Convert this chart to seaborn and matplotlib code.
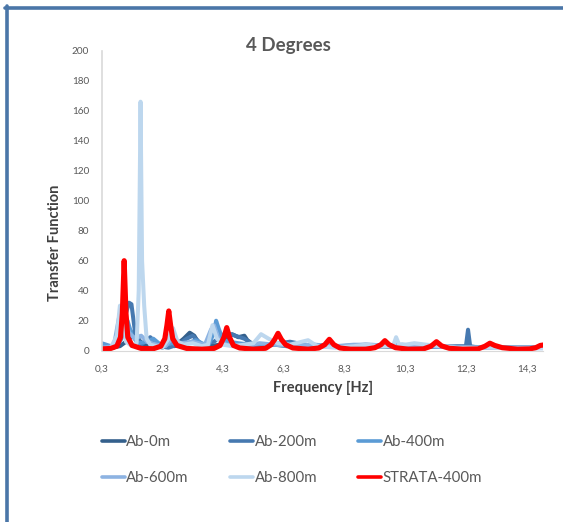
import matplotlib
matplotlib.use("Agg")
import matplotlib.pyplot as plt
from matplotlib.lines import Line2D
import seaborn as sns
import pandas as pd

# ---------------- data ----------------
series_names = ["Ab-0m", "Ab-200m", "Ab-400m", "Ab-600m", "Ab-800m", "STRATA-400m"]

f_ab0 = [0.3, 0.6, 0.9, 1.1, 1.3, 1.42, 1.5, 1.7, 2.0, 2.3, 2.5, 2.7, 3.0, 3.2, 3.35, 3.5, 3.8, 4.2,
         4.6, 4.8, 5.0, 5.1, 5.3, 5.6, 6.0, 6.4, 6.7, 6.9, 7.2, 7.8, 8.5, 9.2, 10.0, 10.8, 11.5, 12.3,
         13.0, 14.0, 14.85]
v_ab0 = [4, 2, 3, 6, 10, 15, 8, 3, 5, 2, 6, 3, 8, 12, 10, 5, 3, 4,
         11, 9, 10, 7, 4, 3, 4, 3, 5, 4, 3, 3, 2.5, 3, 2.5, 3, 2.5, 2,
         2, 2, 2]

f_ab200 = [0.3, 0.7, 0.95, 1.1, 1.2, 1.28, 1.4, 1.6, 1.9, 2.0, 2.2, 2.5, 2.8, 3.1, 3.3, 3.6, 4.0,
           4.4, 4.7, 5.0, 5.3, 5.8, 6.2, 6.5, 7.0, 7.5, 8.2, 9.0, 9.8, 10.5, 11.2, 12.0, 12.3,
           12.37, 12.44, 12.6, 13.5, 14.85]
v_ab200 = [3, 2, 8, 25, 32, 31, 12, 4, 9, 7, 3, 2, 4, 8, 10, 4, 6,
           12, 10, 8, 4, 4, 5, 6, 4, 3, 3, 4, 3, 3, 2.5, 3, 3,
           14, 3, 2.5, 2, 2]

f_ab400 = [0.3, 0.6, 0.9, 1.0, 1.15, 1.3, 1.5, 1.8, 2.0, 2.3, 2.6, 3.0, 3.4, 3.8, 4.0, 4.07, 4.15,
           4.3, 4.5, 4.8, 5.2, 5.8, 6.3, 6.8, 7.3, 8.0, 8.8, 9.5, 10.2, 10.8, 11.5, 12.5, 13.5, 14.85]
v_ab400 = [5, 3, 6, 14, 20, 10, 5, 6, 8, 3, 5, 4, 7, 3, 12, 20, 15,
           7, 6, 5, 4, 4, 5, 3, 4, 3, 3.5, 3, 4, 3, 2.5, 2, 2, 2]

f_ab600 = [0.3, 0.7, 0.85, 0.95, 1.05, 1.2, 1.4, 1.6, 1.8, 2.1, 2.4, 2.6, 2.9, 3.3, 3.7, 3.9, 4.0,
           4.15, 4.4, 5.0, 5.5, 6.0, 6.6, 7.2, 8.0, 8.6, 9.2, 9.8, 10.5, 11.2, 12.0, 13.0, 14.0, 14.85]
v_ab600 = [2, 3, 20, 30, 22, 12, 8, 10, 6, 4, 3, 8, 5, 6, 4, 14, 17,
           8, 4, 3, 5, 4, 3, 4, 3, 4, 4, 3, 3, 3, 2, 2, 2, 2]

f_ab800 = [0.3, 0.6, 0.8, 0.9, 1.0, 1.1, 1.3, 1.45, 1.52, 1.58, 1.63, 1.7, 1.78, 1.9, 2.1, 2.3, 2.5,
           2.65, 2.8, 3.0, 3.3, 3.6, 3.8, 3.95, 4.1, 4.3, 4.6, 5.0, 5.3, 5.55, 5.8, 6.1, 6.5, 6.9,
           7.1, 7.4, 8.0, 8.6, 9.0, 9.5, 9.9, 10.0, 10.1, 10.3, 10.6, 11.0, 11.5, 12.0, 13.0, 14.0,
           14.85]
v_ab800 = [1, 2, 10, 30, 28, 6, 3, 5, 40, 166, 60, 30, 8, 4, 3, 2, 8,
           15, 6, 4, 5, 3, 4, 17, 8, 4, 3, 4, 5, 11, 8, 5, 4, 6,
           7, 3, 2, 3, 4, 3, 3, 9, 4, 4, 5, 4, 3, 2, 2, 1.5,
           1.5]

f_strata = [0.3, 0.6, 0.8, 0.92, 0.98, 1.04, 1.10, 1.16, 1.3, 1.6, 2.0, 2.25, 2.38, 2.45, 2.51, 2.57,
            2.64, 2.78, 3.1, 3.6, 4.0, 4.2, 4.33, 4.42, 4.51, 4.64, 4.85, 5.3, 5.7, 5.88, 6.0, 6.11,
            6.22, 6.36, 6.6, 7.1, 7.45, 7.65, 7.8, 7.95, 8.15, 8.5, 9.0, 9.3, 9.5, 9.63, 9.77, 9.98,
            10.4, 10.9, 11.15, 11.33, 11.5, 11.75, 12.2, 12.7, 12.93, 13.09, 13.25, 13.5, 14.0, 14.4,
            14.6, 14.75, 14.85]
v_strata = [1.2, 1.5, 3, 9, 25, 60, 25, 9, 3.5, 1.5, 1.3, 3, 8, 17, 26.5, 17,
            8, 3.5, 1.5, 1.0, 1.5, 3.5, 9, 15.4, 9, 3.5, 1.8, 1.0, 1.6, 4, 7.5, 11.6,
            7.5, 4, 1.8, 1.0, 1.8, 4, 7.6, 4, 1.8, 1.0, 1.0, 2, 4, 6.7, 4, 2,
            1.0, 1.2, 3, 6, 3.2, 1.6, 1.0, 1.2, 3, 5, 3.5, 2, 1.0, 1.2,
            2, 3.5, 3.8]

x_ticks = [0.3, 2.3, 4.3, 6.3, 8.3, 10.3, 12.3, 14.3]
x_tick_labels = ["0,3", "2,3", "4,3", "6,3", "8,3", "10,3", "12,3", "14,3"]
y_ticks = [0, 20, 40, 60, 80, 100, 120, 140, 160, 180, 200]

title_text = "4 Degrees"
x_label = "Frequency [Hz]"
y_label = "Transfer Function"

# ---------------- styling ----------------
colors = ["#34608C", "#4679B0", "#5B9BD5", "#8DB3E2", "#BDD7EE", "#FF0000"]
widths = [2.9, 2.9, 2.9, 2.9, 2.9, 3.7]

sns.set_theme(style="white")
plt.rcParams["font.family"] = ["Lato", "DejaVu Sans"]

fig = plt.figure(figsize=(5.63, 5.22), dpi=100)
ax = fig.add_axes([101.7 / 563, 1 - 350.7 / 522, (543.3 - 101.7) / 563, 300 / 522])

fs = [f_ab0, f_ab200, f_ab400, f_ab600, f_ab800, f_strata]
vs = [v_ab0, v_ab200, v_ab400, v_ab600, v_ab800, v_strata]
for name, f, v, c, lw in zip(series_names, fs, vs, colors, widths):
    df = pd.DataFrame({"f": f, "v": v})
    sns.lineplot(data=df, x="f", y="v", ax=ax, color=c, linewidth=lw,
                 estimator=None, sort=False, solid_joinstyle="round",
                 solid_capstyle="round", legend=False, clip_on=True)

ax.set_xlim(0.3, 14.85)
ax.set_ylim(0, 200)
ax.set_xticks(x_ticks)
ax.set_xticklabels(x_tick_labels)
ax.set_yticks(y_ticks)
ax.tick_params(axis="both", length=0, labelsize=7.2, colors="#595959")
ax.tick_params(axis="y", pad=9)
ax.tick_params(axis="x", pad=10)
ax.set_xlabel("")
ax.set_ylabel("")
for s in ["top", "right"]:
    ax.spines[s].set_visible(False)
ax.spines["left"].set_color("#D9D9D9")
ax.spines["bottom"].set_color("#D9D9D9")
ax.spines["left"].set_linewidth(1.2)
ax.spines["bottom"].set_linewidth(0.8)
ax.grid(False)

fig.text(288 / 563, 1 - 46 / 522, title_text, ha="center", va="center",
         fontsize=13.5, fontweight="bold", color="#595959")
fig.text(323 / 563, 1 - 388 / 522, x_label, ha="center", va="center",
         fontsize=10.5, fontweight="bold", color="#404040")
fig.text(55 / 563, 1 - 243 / 522, y_label, ha="center", va="center", rotation=90,
         fontsize=10.5, fontweight="bold", color="#404040")

# legend: 2 rows x 3 columns
col_x = [101.7, 230, 358]
row_y = [442, 478]
for i, (name, c) in enumerate(zip(series_names, colors)):
    r, cidx = divmod(i, 3)
    h = Line2D([], [], color=c, linewidth=2.6, solid_capstyle="round")
    leg = fig.legend([h], [name], loc="center left",
                     bbox_to_anchor=(col_x[cidx] / 563, 1 - row_y[r] / 522),
                     frameon=False, fontsize=10.8, handlelength=1.55,
                     handletextpad=0.1, borderpad=0, borderaxespad=0)
    for t in leg.get_texts():
        t.set_color("#595959")

# outer frame (top and left edges)
frame_c = "#4A76A8"
fig.add_artist(Line2D([5 / 563, 1.0], [1 - 8 / 522, 1 - 8 / 522], color=frame_c,
                      linewidth=2.6, transform=fig.transFigure))
fig.add_artist(Line2D([7 / 563, 7 / 563], [0, 1 - 6 / 522], color=frame_c,
                      linewidth=2.6, transform=fig.transFigure))

fig.savefig("out.png", dpi=100)
